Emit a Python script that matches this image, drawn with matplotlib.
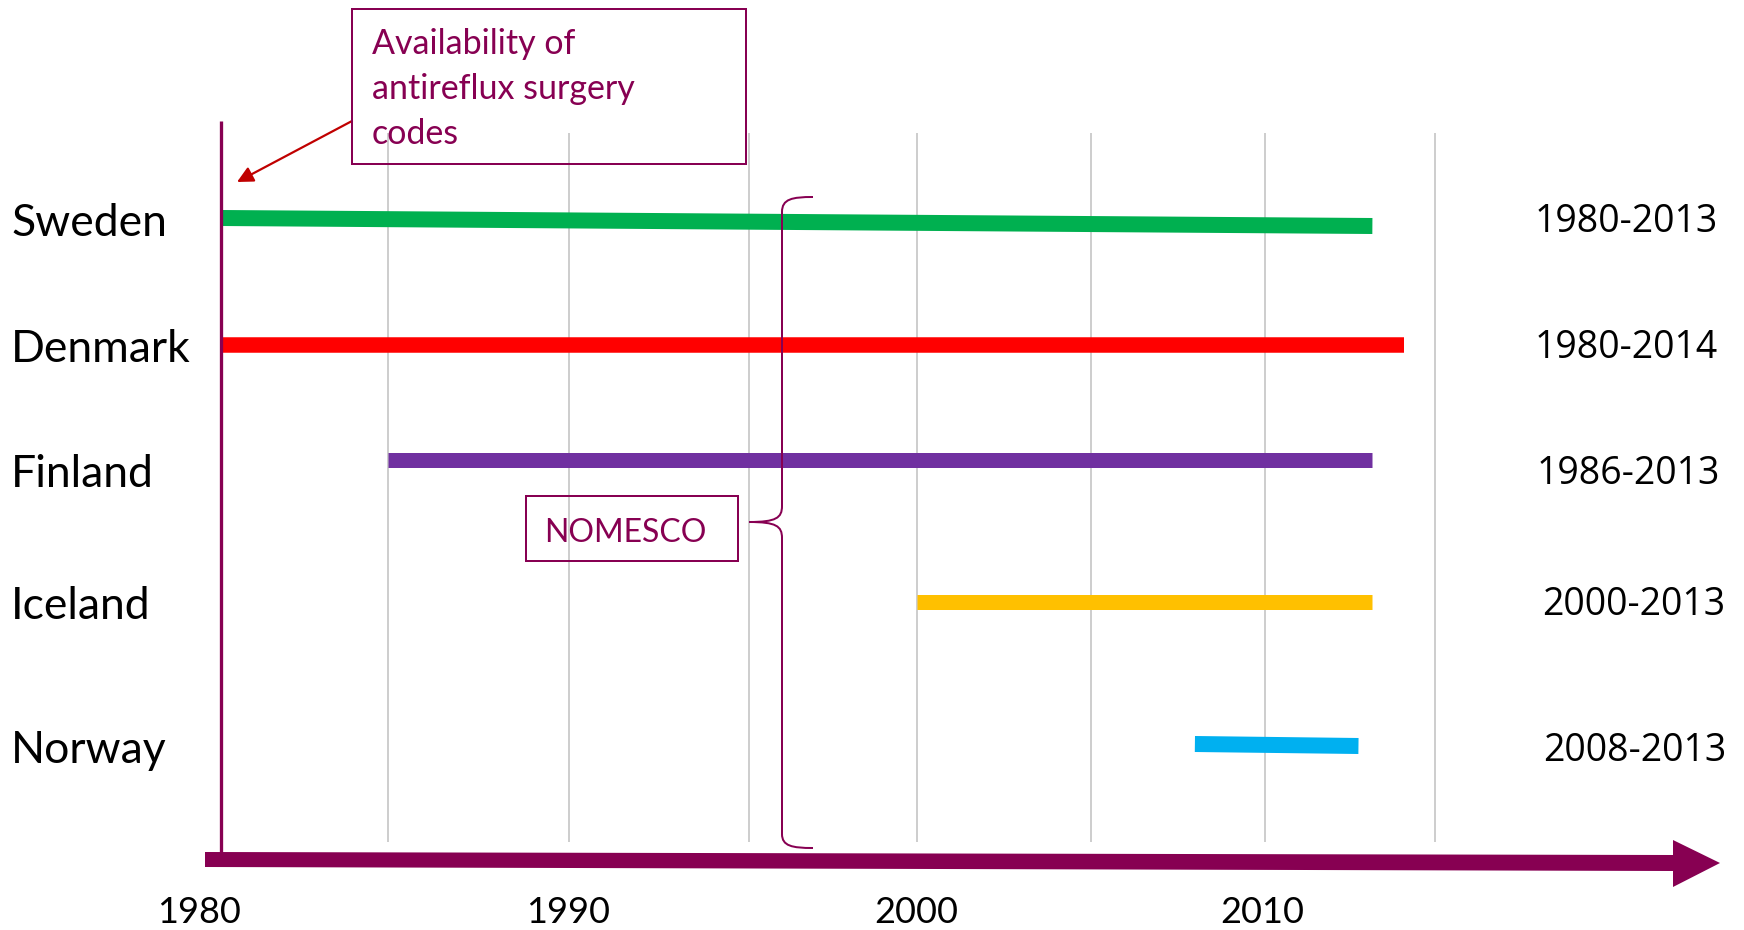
import matplotlib
matplotlib.use("Agg")
import matplotlib.pyplot as plt
from matplotlib.patches import Rectangle, Polygon, PathPatch
from matplotlib.path import Path

# data
countries = ["Sweden", "Denmark", "Finland", "Iceland", "Norway"]
start_year = [1980, 1980, 1984.8, 2000, 2008.0]
end_year = [2013.1, 2014.0, 2013.1, 2013.1, 2012.7]
ranges = ["1980-2013", "1980-2014", "1986-2013", "2000-2013", "2008-2013"]
colors = ["#00B050", "#FF0000", "#7030A0", "#FFC000", "#00B0F0"]
tick_years = [1980, 1990, 2000, 2010]
grid_years = [1984.8, 1990, 1995.2, 2000, 2005, 2010, 2014.9]

# layout (pixel rows, figure is 1744x930 at dpi 100)
W, H = 1744, 930
row_y_left = [218, 345, 460, 602, 744]
row_y_right = [226, 345, 460, 602, 746]
bar_px = [16, 15.5, 15, 15, 16]
range_x = [1626, 1626, 1628, 1634, 1635]
range_y = [222, 348, 474, 605, 751]
label_y = [223, 349, 474, 606, 750]
tick_dx = [-22, 0, 0, -2]
PURPLE = "#870052"
PT = 0.72  # points per pixel at dpi 100

fig = plt.figure(figsize=(W / 100, H / 100), dpi=100)
fig.patch.set_facecolor("white")

# data axes: x in years, y in pixel rows
ax = fig.add_axes([0, 0, 1, 1])
x0_px, px_per_year = 220.5, 34.8
ax.set_xlim(1980 - x0_px / px_per_year, 1980 + (W - x0_px) / px_per_year)
ax.set_ylim(H, 0)
ax.axis("off")

# overlay axes in pixels for annotation stuff
lay = fig.add_axes([0, 0, 1, 1])
lay.set_xlim(0, W)
lay.set_ylim(H, 0)
lay.axis("off")
lay.patch.set_alpha(0)

ax.vlines(grid_years, 133, 842, color="#BFBFBF", lw=1.5 * PT, zorder=1)
ax.vlines(1980, 121, 853, color=PURPLE, lw=3.3 * PT, zorder=3)

for i in range(len(countries)):
    ax.plot([start_year[i], end_year[i]], [row_y_left[i], row_y_right[i]],
            color=colors[i], lw=bar_px[i] * PT, solid_capstyle="butt", zorder=2)
    lay.text(11, label_y[i], countries[i], fontsize=32, family=["Lato", "DejaVu Sans"],
             ha="left", va="center", color="black")
    lay.text(range_x[i], range_y[i], ranges[i], fontsize=27, family=["Open Sans", "DejaVu Sans"],
             ha="center", va="center", color="black")

for yr, dx in zip(tick_years, tick_dx):
    ax.annotate(str(yr), (yr, 912), xytext=(dx, 0), textcoords="offset pixels",
                fontsize=26, family=["Lato", "DejaVu Sans"], ha="center", va="center")

# axis arrow
arrow_pts = [(205, 852), (1673, 855), (1673, 840), (1720, 863),
             (1673, 887), (1673, 871), (205, 867)]
lay.add_patch(Polygon(arrow_pts, closed=True, facecolor=PURPLE, edgecolor="none", zorder=4))

# annotation box
lay.add_patch(Rectangle((352, 9), 394, 155, facecolor="none", edgecolor=PURPLE,
                        lw=2 * PT, zorder=5))
box_lines = ["Availability of", "antireflux surgery", "codes"]
for j, line in enumerate(box_lines):
    lay.text(372, 44 + j * 45, line, fontsize=24.5, family=["Lato", "DejaVu Sans"],
             color=PURPLE, ha="left", va="center")
lay.annotate("", xy=(237, 182), xytext=(352, 121),
             arrowprops=dict(arrowstyle="-|>", color="#C00000", lw=1.6,
                             mutation_scale=24, shrinkA=0, shrinkB=0))

# NOMESCO box
lay.add_patch(Rectangle((526, 496), 212, 65, facecolor="none", edgecolor=PURPLE,
                        lw=2 * PT, zorder=5))
lay.text(625, 533, "NOMESCO", fontsize=23, family=["Lato", "DejaVu Sans"],
         color=PURPLE, ha="center", va="center")

# brace
verts = [(813, 197), (792, 197), (782, 199), (782, 212),
         (782, 506),
         (782, 518), (776, 522), (749, 522),
         (776, 522), (782, 526), (782, 538),
         (782, 834),
         (782, 846), (792, 848), (813, 848)]
codes = [Path.MOVETO, Path.CURVE4, Path.CURVE4, Path.CURVE4,
         Path.LINETO,
         Path.CURVE4, Path.CURVE4, Path.CURVE4,
         Path.CURVE4, Path.CURVE4, Path.CURVE4,
         Path.LINETO,
         Path.CURVE4, Path.CURVE4, Path.CURVE4]
lay.add_patch(PathPatch(Path(verts, codes), facecolor="none", edgecolor=PURPLE,
                        lw=2 * PT, zorder=5))

fig.savefig("out.png", dpi=100, facecolor="white")
plt.close(fig)
